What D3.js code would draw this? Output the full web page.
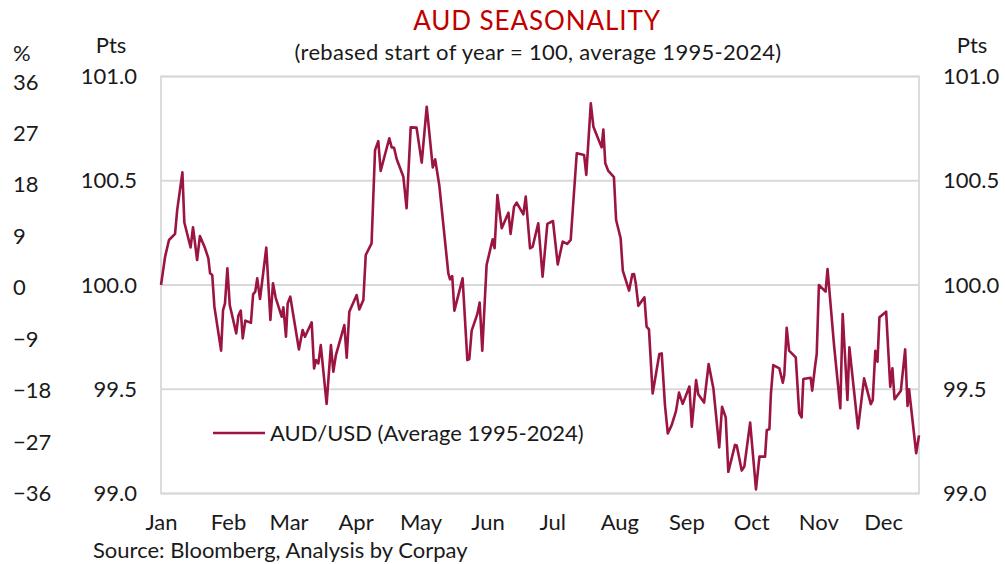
<!DOCTYPE html>
<html>
<head>
<meta charset="utf-8">
<script src="https://cdn.jsdelivr.net/npm/d3@7"></script>
<style>
  html, body { margin: 0; padding: 0; background: #fff; }
  svg { display: block; font-family: Lato, "Open Sans", sans-serif; }
</style>
</head>
<body>
<svg id="chart" width="1005" height="564"></svg>
<script>
// AUD/USD seasonal path, rebased to 100 at the start of the year (average 1995-2024)
const dayOfYear = [
  0, 1.9, 3.7, 6.5, 7.5, 9.9, 10.8, 13.7, 14.8, 16.7,
  18, 20.4, 21.9, 22.7, 23.7, 24.7, 27.8, 28.7, 29.6, 30.7,
  31.8, 34.8, 35.8, 36.9, 37.8, 39, 41.6, 42.6, 43.6, 44.5,
  45.8, 48.7, 50.6, 51.8, 53, 55.8, 56.6, 57.8, 58.6, 59.8,
  63.8, 65.5, 66.6, 69.7, 70.8, 71.7, 72.8, 73.9, 76.6, 78.6,
  79.7, 80.9, 84.8, 85.9, 87.1, 90.5, 91.7, 93.6, 94.7, 97.4,
  99, 100.5, 101.6, 105.6, 106.7, 107.8, 109, 112.1, 113.6, 115.5,
  118.2, 120.6, 122.9, 125.7, 126.8, 128.7, 132.9, 133.7, 134.7, 135.7,
  139.5, 141.7, 142.6, 143.7, 146.3, 147.4, 148.6, 150.6, 153.4, 154.3,
  155.6, 157.6, 160.7, 161.7, 163.3, 164.5, 167.6, 168.7, 170.7, 171.9,
  174.5, 176.5, 178.7, 181.3, 183.5, 185.8, 187.9, 189.5, 191, 192.3,
  195.7, 196.7, 198.8, 200, 203.8, 204.6, 205.5, 206.9, 209.5, 210.5,
  212.6, 213.6, 216.5, 218, 218.8, 219.6, 220.8, 223.6, 224.6, 225.7,
  227.4, 230.5, 231.6, 233.1, 234.4, 236.2, 238.2, 239.6, 241.3, 244.4,
  245.5, 247.5, 248.5, 251.2, 253.3, 255.5, 258.2, 259.5, 261.2, 262.4,
  265.5, 266.3, 268.6, 269.8, 272.5, 275.2, 276.8, 279.4, 280.2, 281.4,
  282.1, 283.2, 286, 287.6, 288.3, 289.4, 290.5, 293.6, 295.2, 296.3,
  297.1, 300.5, 301.2, 302.5, 303.3, 304.3, 307.4, 308.3, 311.3, 314.2,
  315.3, 317.5, 318.4, 322.4, 325.2, 328.3, 329.2, 330.4, 331.4, 332.3,
  335.4, 337.3, 338.3, 339.3, 342.2, 344.2, 345.3, 346, 349.3, 350.6
];
const audUsd = [
  100.000, 100.136, 100.216, 100.245, 100.360, 100.540, 100.300, 100.180, 100.277, 100.120,
  100.235, 100.176, 100.128, 100.056, 100.048, 99.896, 99.685, 99.880, 99.912, 100.080,
  99.904, 99.768, 99.853, 99.877, 99.744, 99.829, 99.819, 99.955, 99.968, 100.032,
  99.933, 100.179, 99.832, 100.008, 99.941, 99.848, 99.893, 99.752, 99.912, 99.944,
  99.691, 99.784, 99.752, 99.821, 99.600, 99.640, 99.624, 99.712, 99.430, 99.712,
  99.584, 99.664, 99.808, 99.651, 99.872, 99.952, 99.883, 99.928, 100.144, 100.200,
  100.647, 100.690, 100.547, 100.704, 100.660, 100.658, 100.604, 100.519, 100.368, 100.756,
  100.755, 100.587, 100.855, 100.564, 100.603, 100.480, 100.056, 100.027, 100.043, 99.877,
  100.032, 99.640, 99.645, 99.781, 99.860, 99.916, 99.685, 100.096, 100.219, 100.176,
  100.432, 100.272, 100.347, 100.245, 100.376, 100.395, 100.339, 100.424, 100.176, 100.184,
  100.296, 100.040, 100.293, 100.307, 100.099, 100.208, 100.197, 100.216, 100.440, 100.632,
  100.624, 100.528, 100.871, 100.759, 100.660, 100.746, 100.584, 100.547, 100.517, 100.312,
  100.224, 100.069, 99.973, 100.051, 100.053, 100.008, 99.900, 99.941, 99.800, 99.787,
  99.480, 99.669, 99.672, 99.424, 99.288, 99.328, 99.395, 99.484, 99.430, 99.513,
  99.320, 99.544, 99.476, 99.436, 99.621, 99.504, 99.221, 99.416, 99.365, 99.104,
  99.233, 99.230, 99.110, 99.129, 99.340, 99.020, 99.177, 99.177, 99.305, 99.308,
  99.477, 99.616, 99.600, 99.531, 99.568, 99.795, 99.685, 99.653, 99.384, 99.365,
  99.549, 99.555, 99.493, 99.608, 99.669, 100.000, 99.968, 100.077, 99.712, 99.409,
  99.861, 99.449, 99.701, 99.312, 99.552, 99.429, 99.448, 99.685, 99.632, 99.845,
  99.872, 99.512, 99.600, 99.452, 99.493, 99.691, 99.420, 99.500, 99.193, 99.279
];

const monthLabels = ["Jan", "Feb", "Mar", "Apr", "May", "Jun", "Jul", "Aug", "Sep", "Oct", "Nov", "Dec"];
const monthStartDays = [0, 31, 59, 90, 120, 151, 181, 212, 243, 273, 304, 334];
const ptsTicks = [99.0, 99.5, 100.0, 100.5, 101.0];
const pctTicks = [36, 27, 18, 9, 0, -9, -18, -27, -36];
const lastDay = 350.6;

const seriesName = "AUD/USD (Average 1995-2024)";
const lineColor = "#9B1540";
const titleColor = "#C00000";
const textColor = "#1a1a1a";
const gridColor = "#D9D9D9";
const fontSize = 22;

const svg = d3.select("#chart");
const plot = { left: 161, right: 919, top: 76.5, bottom: 493.5 };

const x = d3.scaleLinear().domain([0, lastDay]).range([plot.left, plot.right]);
const y = d3.scaleLinear().domain([99, 101]).range([plot.bottom, plot.top]);
const yPct = d3.scaleLinear().domain([-36, 36]).range([plot.bottom, 82]);

// Horizontal gridlines
svg.append("g")
  .selectAll("line")
  .data(ptsTicks)
  .join("line")
  .attr("x1", plot.left).attr("x2", plot.right)
  .attr("y1", d => y(d)).attr("y2", d => y(d))
  .attr("stroke", gridColor).attr("stroke-width", 1.8);

// Plot frame
svg.append("rect")
  .attr("x", plot.left).attr("y", plot.top)
  .attr("width", plot.right - plot.left).attr("height", plot.bottom - plot.top)
  .attr("fill", "none").attr("stroke", gridColor).attr("stroke-width", 1.8);

function styleAxisText(g) {
  g.select(".domain").remove();
  g.selectAll("text")
    .attr("font-size", fontSize)
    .attr("fill", textColor)
    .attr("font-family", "Lato, sans-serif");
}

// Left Pts axis
const axisLeft = d3.axisLeft(y).tickValues(ptsTicks).tickFormat(d3.format(".1f")).tickSize(0).tickPadding(0);
svg.append("g").attr("transform", "translate(137,0)").call(axisLeft).call(styleAxisText);

// Right Pts axis
const axisRight = d3.axisRight(y).tickValues(ptsTicks).tickFormat(d3.format(".1f")).tickSize(0).tickPadding(0);
svg.append("g").attr("transform", "translate(943,0)").call(axisRight).call(styleAxisText);

// Left % axis
const axisPct = d3.axisRight(yPct).tickValues(pctTicks).tickFormat(d3.format("d")).tickSize(0).tickPadding(0);
svg.append("g").attr("transform", "translate(13,0)").call(axisPct).call(styleAxisText);

// Month axis
const axisBottom = d3.axisBottom(x).tickValues(monthStartDays)
  .tickFormat((d, i) => monthLabels[i]).tickSize(0).tickPadding(0);
svg.append("g").attr("transform", `translate(0,${plot.bottom + 21})`).call(axisBottom).call(styleAxisText);

// Series line
const points = dayOfYear.map((d, i) => [d, audUsd[i]]);
svg.append("path")
  .datum(points)
  .attr("fill", "none")
  .attr("stroke", lineColor)
  .attr("stroke-width", 2.6)
  .attr("stroke-linejoin", "round")
  .attr("d", d3.line().x(d => x(d[0])).y(d => y(d[1])));

// Legend
svg.append("line")
  .attr("x1", 213).attr("x2", 265).attr("y1", 433).attr("y2", 433)
  .attr("stroke", lineColor).attr("stroke-width", 2.6);
svg.append("text")
  .attr("x", 270).attr("y", 441)
  .attr("font-size", fontSize).attr("fill", textColor)
  .text(seriesName);

// Titles and axis units
svg.append("text").attr("x", 537).attr("y", 30).attr("text-anchor", "middle")
  .attr("font-size", 26).attr("letter-spacing", 0.9).attr("fill", titleColor).text("AUD SEASONALITY");
svg.append("text").attr("x", 538).attr("y", 60).attr("text-anchor", "middle")
  .attr("font-size", fontSize).attr("letter-spacing", 0.3).attr("fill", textColor)
  .text("(rebased start of year = 100, average 1995-2024)");
svg.append("text").attr("x", 13).attr("y", 61).attr("font-size", fontSize).attr("fill", textColor).text("%");
svg.append("text").attr("x", 111).attr("y", 53).attr("text-anchor", "middle").attr("font-size", fontSize).attr("fill", textColor).text("Pts");
svg.append("text").attr("x", 972).attr("y", 53).attr("text-anchor", "middle").attr("font-size", fontSize).attr("fill", textColor).text("Pts");

// Source note
svg.append("text").attr("x", 93).attr("y", 558).attr("font-size", fontSize).attr("fill", textColor)
  .text("Source: Bloomberg, Analysis by Corpay");
</script>
</body>
</html>
